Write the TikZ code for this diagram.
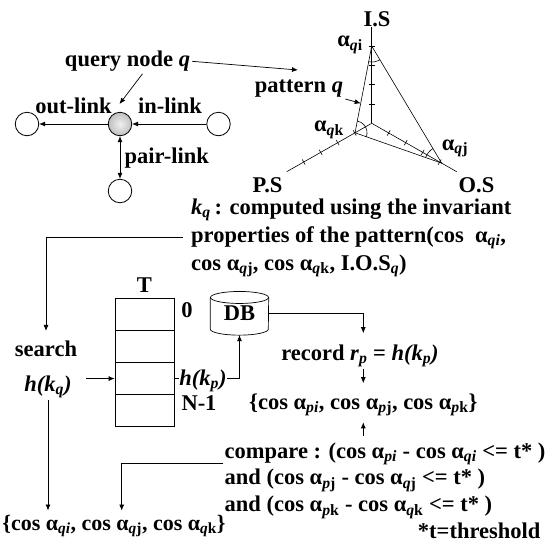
\documentclass[tikz,border=0pt]{standalone}
\usepackage{fontspec}
\setmainfont{Liberation Serif}
\usetikzlibrary{arrows.meta,calc,angles}
\newcommand\sbs[1]{\textsubscript{#1}}

\begin{document}
\begin{tikzpicture}[x=1pt,y=-1pt,
  font=\fontsize{22.5}{26}\selectfont\bfseries,
  lbl/.style={inner sep=2pt,anchor=base},
  lblw/.style={inner sep=2pt,anchor=base west},
  conn/.style={line width=0.7pt},
  arr/.style={conn,-{Latex[length=6pt,width=5pt]}},
  darr/.style={conn,{Latex[length=6pt,width=5pt]}-{Latex[length=6pt,width=5pt]}},
  vtx/.style={circle,draw,line width=0.8pt,minimum size=23.5pt,inner sep=0pt},
  axisline/.style={line width=0.6pt},
  cell/.style={draw,line width=0.7pt,minimum width=59pt,minimum height=32.1pt,inner sep=0pt},
  ang/.style={draw,line width=0.6pt}]

\useasboundingbox (0,0) rectangle (551,542);

% ---- node with its links ----
\node[vtx] (lc) at (27,124) {};
\node[vtx,shading=radial,inner color=gray!12,outer color=gray!50] (qn) at (120,124) {};
\node[vtx] (rc) at (218.5,124) {};
\node[vtx] (bc) at (120,191) {};
\draw[arr] (qn) -- (lc);
\draw[arr] (rc) -- (qn);
\draw[darr] (qn) -- (bc);
\node[lbl] (outl) at (73.5,113.3) {out-link};
\node[lbl] (inl) at (170,113.3) {in-link};
\node[lbl] (pairl) at (166.7,163.3) {pair-link};
\node[lbl] (qlab) at (127.5,66.7) {query node \textit{q}};
\coordinate (qtip) at (119.5,104);
\draw[arr] ([xshift=15pt]qlab.south) -- (qtip);

% ---- pattern in the I.S / P.S / O.S axes ----
\coordinate (O) at (371.7,123.3);
\coordinate (IS) at (371.7,26.7);
\coordinate (PS) at (286.7,171.7);
\coordinate (OS) at (456.7,171.7);
\coordinate (vi) at ($(O)!0.8!(IS)$);
\coordinate (vk) at ($(O)!0.196!(PS)$);
\coordinate (vj) at ($(O)!0.8235!(OS)$);
\draw[axisline] (O) -- (IS);
\draw[axisline] (O) -- (PS);
\draw[axisline] (O) -- (OS);
\foreach \ax in {IS,PS,OS}{
  \foreach \t in {0.2,0.4,0.6,0.8,1.0}{
    \coordinate (tk) at ($(O)!\t!(\ax)$);
    \draw[axisline] ($(tk)!3pt!90:(\ax)$) -- ($(tk)!3pt!-90:(\ax)$);
  }
}
\draw[axisline] (vi) -- (vj) -- (vk) -- cycle;
\pic[ang,angle radius=16pt] {angle=vk--vi--vj};
\pic[ang,angle radius=12pt] {angle=vj--vk--vi};
\pic[ang,angle radius=17pt] {angle=vi--vj--vk};
\node[lbl] (islab) at (377,26.7) {I.S};
\node[lbl] (pslab) at (267.5,192) {P.S};
\node[lbl] (oslab) at (476.5,192) {O.S};
\node[lbl] (ai) at (350,46.7) {α\sbs{\textit{q}i}};
\node[lbl] (ak) at (329,131.7) {α\sbs{\textit{q}k}};
\node[lbl] (aj) at (455,150) {α\sbs{\textit{q}j}};
\node[lbl] (plab) at (299,92) {pattern \textit{q}};
\coordinate (ptip) at (298,70);
\draw[arr] (qlab.east) -- (ptip);
\coordinate (pq) at ($(vi)!0.66!(vk)$);
\draw[arr] (plab.south east) -- (pq);

% ---- key of the pattern ----
\node[lblw] (kq1) at (189,214) {\textit{k}\sbs{\textit{q}}\,: computed using the invariant};
\node[lblw] (kq2) at (189,242) {properties of the pattern(cos\enspace α\sbs{\textit{qi}},};
\node[lblw] (kq3) at (189,270) {cos α\sbs{\textit{q}j}, cos α\sbs{\textit{q}k}, I.O.S\sbs{\textit{q}})};

% ---- hash table T ----
\node[cell] (r0) at (144.5,314.35) {};
\node[cell] (r1) at (144.5,346.45) {};
\node[cell] (r2) at (144.5,378.55) {};
\node[cell] (r3) at (144.5,410.65) {};
\node[lbl] (tlab) at (144.5,292) {T};
\node[lbl] (zlab) at (187,317) {0};

\node[lbl] (search) at (46,356.7) {search};
\node[lbl] (hkq) at (48,391.7) {\textit{h(k\sbs{q})}};
\draw[arr,shorten >=8pt] ([xshift=-6pt]kq2.west) -| (search.north);
\draw[arr,shorten <=12pt] (hkq.east |- r2.west) -- (r2.west);

% ---- database ----
\node[minimum width=58pt,minimum height=43.3pt,inner sep=0pt] (db) at (239.5,313.3) {\raisebox{-4.5pt}{DB}};
\draw[conn] ([yshift=-6pt]db.north west) -- ([yshift=6pt]db.south west)
  arc[start angle=180,end angle=360,x radius=29pt,y radius=6pt]
  -- ([yshift=-6pt]db.north east);
\draw[conn] ([yshift=-6pt]db.north) ellipse[x radius=29pt,y radius=6pt];
\draw[arr] (r2.east) -| (db.south);
\node[lbl,fill=white,inner sep=0pt] (hkp) at (203,385.5) {\textit{h(k\sbs{p})}};
\node[lbl,inner sep=0pt] (nlab) at (199,410) {N-1};

% ---- record and comparison ----
\node[lbl] (record) at (360,360) {record \textit{r}\sbs{\textit{p}} = \textit{h(k\sbs{p})}};
\node[lbl] (pset) at (363.3,409) {\{cos α\sbs{\textit{pi}}, cos α\sbs{\textit{p}j}, cos α\sbs{\textit{p}k}\}};
\draw[arr,shorten >=9pt] (db.east) -| (record.north -| pset.north);
\draw[arr,shorten >=8pt] (record.south -| pset.north) -- (pset.north);

\node[lblw] (cmp1) at (222.5,458) {compare : (cos α\sbs{\textit{pi}} - cos α\sbs{\textit{qi}} <= t* )};
\node[lblw] (cmp2) at (222.5,484.7) {and (cos α\sbs{\textit{p}j} - cos α\sbs{\textit{q}j} <= t* )};
\node[lblw,inner sep=0pt] (cmp3) at (224.5,511.5) {and (cos α\sbs{\textit{p}k} - cos α\sbs{\textit{q}k} <= t* )};
\node[lbl] (thr) at (479.2,538) {*t=threshold};
\draw[arr,shorten <=4pt,shorten >=4pt] (cmp1.north -| pset.south) -- (pset.south);

\node[lbl,inner sep=0pt,font=\fontsize{22}{26}\selectfont\bfseries] (qset) at (114,530) {\{cos α\sbs{\textit{qi}}, cos α\sbs{\textit{q}j}, cos α\sbs{\textit{q}k}\}};
\draw[arr,shorten >=4pt] (hkq.south) -- (hkq.south |- qset.north);
\draw[arr,shorten >=4pt] ([yshift=-10pt]cmp1.west) -| ([xshift=7.7pt]qset.north);
\end{tikzpicture}
\end{document}
